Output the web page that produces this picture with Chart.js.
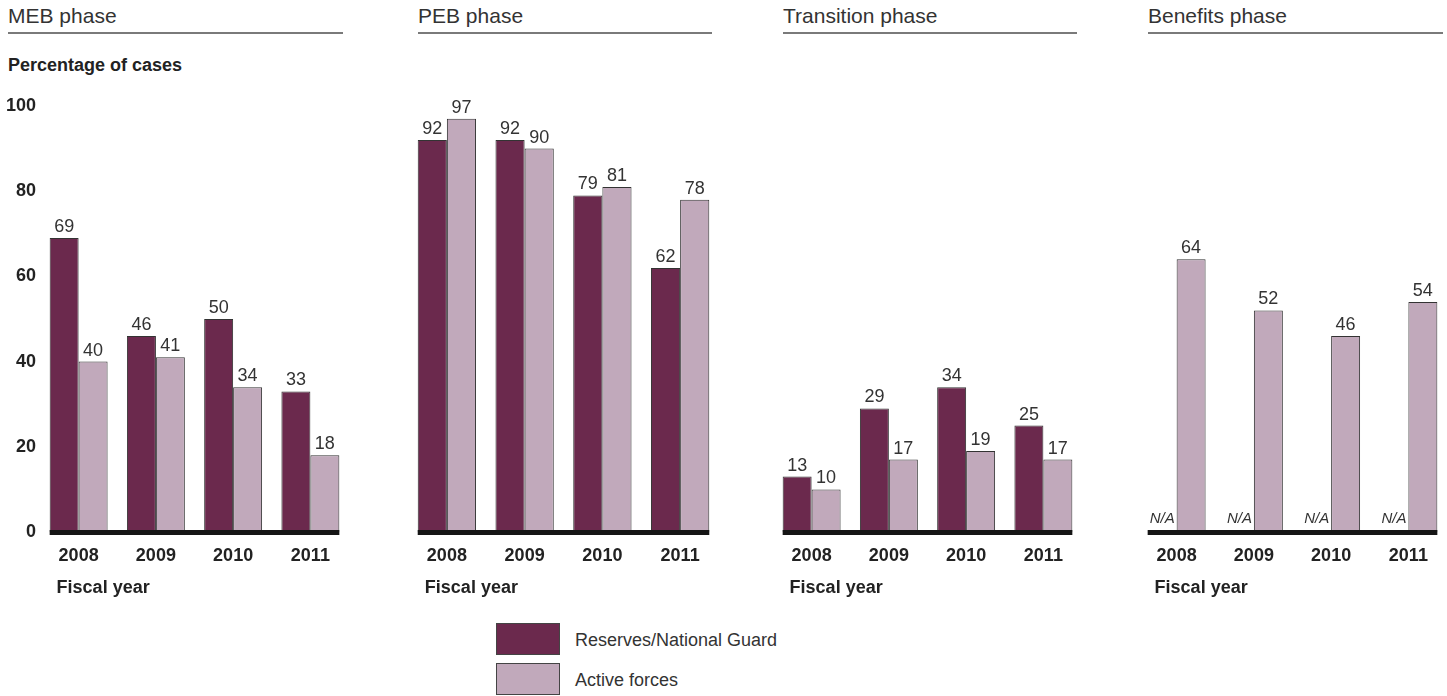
<!DOCTYPE html>
<html>
<head>
<meta charset="utf-8">
<script src="https://cdn.jsdelivr.net/npm/chart.js"></script>
<style>
  body { margin: 0; background: #fff; font-family: 'Liberation Sans', Arial, sans-serif; }
  #page { position: relative; width: 1447px; height: 696px; overflow: hidden; }
  .panel { position: absolute; top: 80px; }
  .head { position: absolute; top: 5px; height: 27px; border-bottom: 2px solid #7a7a7a; font-size: 21px; line-height: 21px; color: #333; }
  .ylab { position: absolute; left: 8px; top: 56px; font-size: 18px; line-height: 18px; font-weight: bold; color: #222; }
  .box { position: absolute; left: 496px; width: 62px; height: 30px; border: 1px solid #444; }
  .ltxt { position: absolute; left: 575px; font-size: 18px; line-height: 18px; color: #333; }
</style>
</head>
<body>
<div id="page">
  <div class="head" style="left:8px;width:335px">MEB phase</div>
  <div class="head" style="left:418px;width:294px">PEB phase</div>
  <div class="head" style="left:783px;width:294px">Transition phase</div>
  <div class="head" style="left:1148px;width:295px">Benefits phase</div>
  <div class="ylab">Percentage of cases</div>

  <canvas class="panel" id="meb" width="349" height="520" style="left:0px"></canvas>
  <canvas class="panel" id="peb" width="311" height="520" style="left:408px"></canvas>
  <canvas class="panel" id="trans" width="309" height="520" style="left:773px"></canvas>
  <canvas class="panel" id="ben" width="309" height="520" style="left:1138px"></canvas>

  <div class="box" style="top:623px;background:#6b294d"></div>
  <div class="ltxt" style="top:631px">Reserves/National Guard</div>
  <div class="box" style="top:663px;background:#c1a9bb"></div>
  <div class="ltxt" style="top:671px">Active forces</div>
</div>
<script>
const years = ['2008', '2009', '2010', '2011']
const seriesNames = ['Reserves/National Guard', 'Active forces']

// percentage of cases, per phase
const mebReserves = [69, 46, 50, 33]
const mebActive = [40, 41, 34, 18]
const pebReserves = [92, 92, 79, 62]
const pebActive = [97, 90, 81, 78]
const transitionReserves = [13, 29, 34, 25]
const transitionActive = [10, 17, 19, 17]
const benefitsReserves = [null, null, null, null] // N/A
const benefitsActive = [64, 52, 46, 54]

const yMin = 0
const yMax = 100
const yStep = 20

const darkColor = '#6b294d'
const lightColor = '#c1a9bb'
const catPct = 0.75

Chart.defaults.font.family = "'Liberation Sans', Arial, sans-serif"

// thick black baseline under the bar groups
const baselinePlugin = {
    id: 'baseline',
    afterDatasetsDraw(chart) {
        const xs = chart.scales.x
        const ys = chart.scales.y
        const groupW = xs.width / years.length * catPct
        const left = xs.getPixelForValue(0) - groupW / 2
        const right = xs.getPixelForValue(years.length - 1) + groupW / 2
        const y0 = ys.getPixelForValue(0)
        const ctx = chart.ctx
        ctx.save()
        ctx.fillStyle = '#151515'
        ctx.fillRect(left, y0 - 2, right - left, 5)
        ctx.restore()
    }
}

// value labels above bars, N/A where there is no value
const valueLabels = {
    id: 'valueLabels',
    afterDatasetsDraw(chart) {
        const ctx = chart.ctx
        const xs = chart.scales.x
        const ys = chart.scales.y
        const barW = xs.width / years.length * catPct / 2
        ctx.save()
        ctx.textAlign = 'center'
        ctx.textBaseline = 'alphabetic'
        ctx.fillStyle = '#333'
        chart.data.datasets.forEach((ds, d) => {
            const meta = chart.getDatasetMeta(d)
            ds.data.forEach((v, i) => {
                if (v === null) {
                    const x = xs.getPixelForValue(i) + (d === 0 ? -barW / 2 : barW / 2)
                    ctx.font = "italic 15px 'Liberation Sans', Arial, sans-serif"
                    ctx.fillText('N/A', x, ys.getPixelForValue(0) - 9)
                } else {
                    const bar = meta.data[i]
                    ctx.font = "18px 'Liberation Sans', Arial, sans-serif"
                    ctx.fillText(String(v), bar.x, bar.y - 6)
                }
            })
        })
        ctx.restore()
    }
}

// "Fiscal year" under the year labels
const fiscalLabel = {
    id: 'fiscalLabel',
    afterDraw(chart) {
        const ctx = chart.ctx
        const xs = chart.scales.x
        ctx.save()
        ctx.font = "bold 18px 'Liberation Sans', Arial, sans-serif"
        const w = ctx.measureText(years[0]).width
        ctx.textAlign = 'left'
        ctx.textBaseline = 'middle'
        ctx.fillStyle = '#222'
        ctx.fillText('Fiscal year', xs.getPixelForValue(0) - w / 2 - 2, chart.chartArea.bottom + 56)
        ctx.restore()
    }
}

const makePanel = (id, reserves, active, showY) => {
    const ctx = document.getElementById(id).getContext('2d')
    return new Chart(ctx, {
        type: 'bar',
        data: {
            labels: years,
            datasets: [
                { label: seriesNames[0], data: reserves, backgroundColor: darkColor, borderColor: '#333', borderWidth: 1 },
                { label: seriesNames[1], data: active, backgroundColor: lightColor, borderColor: '#333', borderWidth: 1 }
            ]
        },
        options: {
            responsive: false,
            animation: false,
            devicePixelRatio: 1,
            categoryPercentage: catPct,
            barPercentage: 1,
            layout: { padding: { top: 26, left: 0, right: 0, bottom: 0 } },
            plugins: {
                legend: { display: false },
                tooltip: { enabled: false }
            },
            scales: {
                x: {
                    grid: { display: false, drawTicks: false },
                    border: { display: false },
                    ticks: { color: '#222', padding: 13, font: { size: 18, weight: 'bold' } },
                    afterFit: s => { s.height = 68 }
                },
                y: {
                    display: showY,
                    min: yMin,
                    max: yMax,
                    grid: { display: false, drawTicks: false },
                    border: { display: false },
                    ticks: { stepSize: yStep, padding: 4, color: '#222', font: { size: 18, weight: 'bold' } },
                    afterFit: s => { s.width = showY ? 40 : 0 }
                }
            }
        },
        plugins: [baselinePlugin, valueLabels, fiscalLabel]
    })
}

makePanel('meb', mebReserves, mebActive, true)
makePanel('peb', pebReserves, pebActive, false)
makePanel('trans', transitionReserves, transitionActive, false)
makePanel('ben', benefitsReserves, benefitsActive, false)
</script>
</body>
</html>
